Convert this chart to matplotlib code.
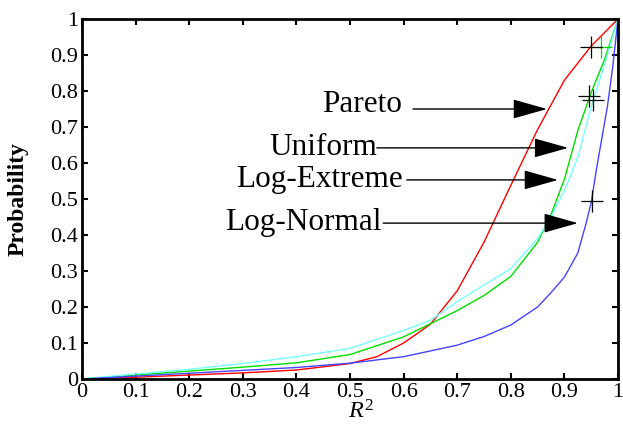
import numpy as np
import matplotlib.pyplot as plt
from matplotlib.ticker import FormatStrFormatter

plt.rcParams['font.family'] = ['Liberation Serif', 'DejaVu Serif']
plt.rcParams['mathtext.fontset'] = 'custom'
plt.rcParams['mathtext.rm'] = 'Liberation Serif'
plt.rcParams['mathtext.it'] = 'Liberation Serif:italic'

# ----------------------------- data (cumulative probability vs R^2)

pareto_x = [0, 0.1, 0.2, 0.3, 0.4, 0.5, 0.55, 0.6, 0.65, 0.7, 0.75, 0.8, 0.85, 0.9, 0.95, 1]
pareto_y = [0, 0.005, 0.011, 0.017, 0.025, 0.043, 0.062, 0.1, 0.152, 0.245, 0.38, 0.538, 0.693, 0.83, 0.925, 1]

uniform_x = [0, 0.1, 0.2, 0.3, 0.4, 0.5, 0.6, 0.7, 0.75, 0.8, 0.85, 0.875, 0.9, 0.925, 0.95, 0.975, 1]
uniform_y = [0, 0.011, 0.022, 0.033, 0.045, 0.068, 0.117, 0.19, 0.232, 0.285, 0.38, 0.457, 0.555, 0.69, 0.796, 0.888, 1]

logext_x = [0, 0.1, 0.2, 0.3, 0.4, 0.5, 0.6, 0.65, 0.7, 0.8, 0.85, 0.875, 0.9, 0.925, 0.95, 0.975, 1]
logext_y = [0, 0.014, 0.027, 0.043, 0.062, 0.085, 0.135, 0.163, 0.215, 0.307, 0.39, 0.45, 0.523, 0.616, 0.756, 0.875, 1]

lognorm_x = [0, 0.1, 0.2, 0.3, 0.4, 0.5, 0.6, 0.7, 0.75, 0.8, 0.85, 0.875, 0.9, 0.925, 0.94, 0.95, 0.96, 0.98, 0.99, 1]
lognorm_y = [0, 0.008, 0.016, 0.024, 0.032, 0.044, 0.062, 0.094, 0.118, 0.15, 0.2, 0.24, 0.283, 0.35, 0.43, 0.49, 0.585, 0.755, 0.865, 1]

# observed points marked with crosses
obs_x = [0.949, 0.945, 0.953, 0.951]
obs_y = [0.923, 0.786, 0.775, 0.494]

# curve labels: right edge and baseline of the text, arrow tail / head x and arrow y
labels = ['Pareto', 'Uniform', 'Log-Extreme', 'Log-Normal']
label_x = [0.597, 0.5504, 0.599, 0.5597]
label_y = [0.7417, 0.6222, 0.5333, 0.4139]
arrow_x0 = [0.6175, 0.550, 0.606, 0.562]
arrow_x1 = [0.8675, 0.907, 0.888, 0.925]
arrow_y = [0.75, 0.642, 0.553, 0.433]

# ----------------------------- plotting

fig = plt.figure(figsize=(6.23, 4.26), dpi=100)
ax = fig.add_axes([0.1316, 0.1103, 0.8604, 0.8451])

ax.plot(pareto_x, pareto_y, color='#ff0000', lw=1.0)
ax.plot(uniform_x, uniform_y, color='#00dd00', lw=1.0)
ax.plot(logext_x, logext_y, color='#77ffff', lw=1.0)
ax.plot(lognorm_x, lognorm_y, color='#4444ff', lw=1.0)

# green cross hidden behind the top black one
ax.plot([0.968], [0.923], '+', color='#00dd00', ms=16.5, mew=0.9)
ax.plot(obs_x, obs_y, '+', color='black', ms=16.5, mew=0.9, ls='none')

for lab, lx, ly, x0, x1, ay in zip(labels, label_x, label_y, arrow_x0, arrow_x1, arrow_y):
	ax.text(lx, ly, lab, ha='right', va='baseline', fontsize=22.5)
	ax.annotate('', xy=(x1, ay), xytext=(x0, ay),
		arrowprops=dict(arrowstyle='-|>,head_length=2.16,head_width=0.61',
			mutation_scale=10, color='black', lw=1.0, shrinkA=0, shrinkB=0))

ax.set_xlim(0, 1)
ax.set_ylim(0, 1)
ticks = np.arange(0, 1.01, 0.1)
ax.set_xticks(ticks)
ax.set_yticks(ticks)
ax.xaxis.set_major_formatter(FormatStrFormatter('%g'))
ax.yaxis.set_major_formatter(FormatStrFormatter('%g'))
ax.tick_params(direction='in', length=4, width=1.5, top=True, right=True,
	labelsize=16, pad=3)
for s in ax.spines.values():
	s.set_linewidth(2.0)

ax.set_xlabel('$R^{\\mathrm{2}}$', fontsize=17.5)
ax.xaxis.set_label_coords(0.52, -0.06)
ax.set_ylabel('Probability', fontsize=17, fontweight='bold')
ax.yaxis.set_label_coords(-0.099, 0.5)

plt.savefig('out.png', dpi=100)
